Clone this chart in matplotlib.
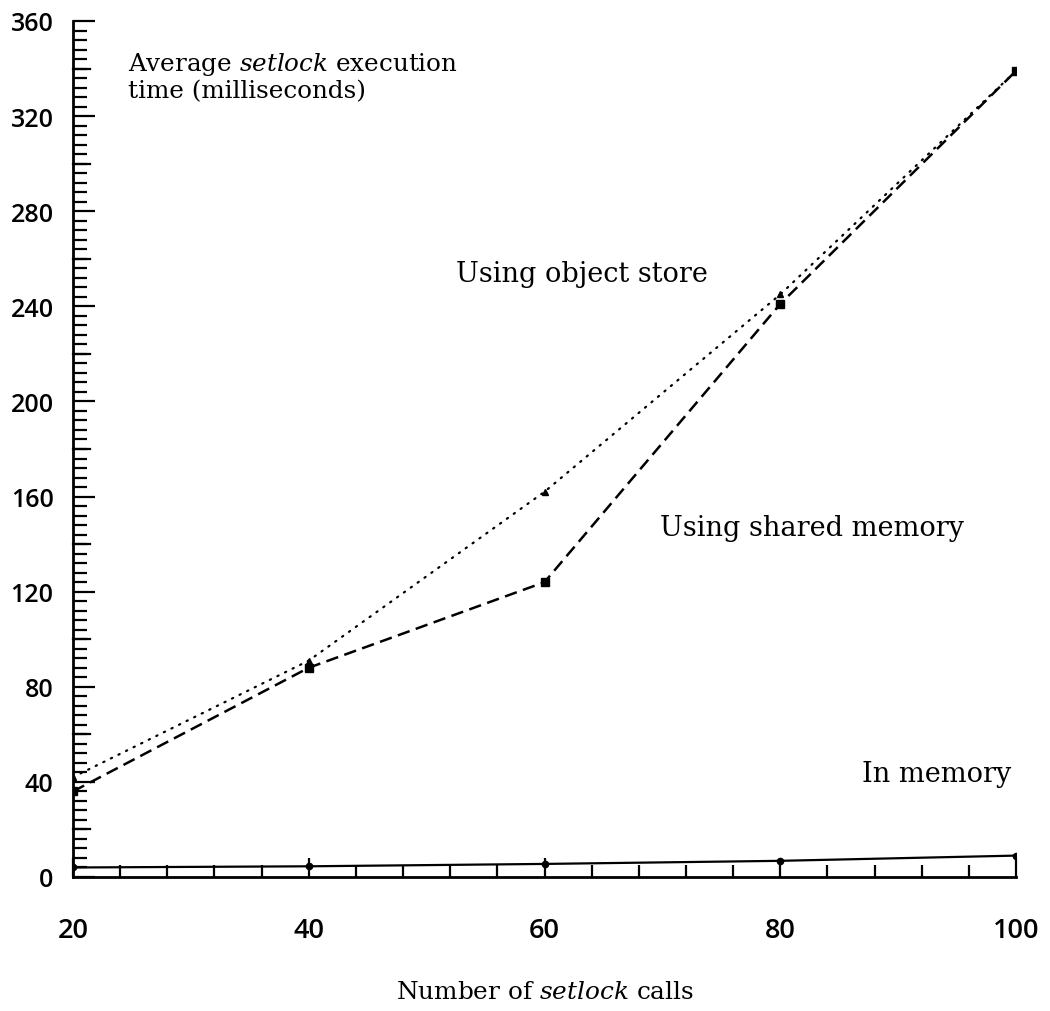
import numpy as np
import matplotlib
matplotlib.use("Agg")
import matplotlib.pyplot as plt
from matplotlib.ticker import MultipleLocator

# setlock calls vs. average execution time (ms)
calls = [20, 40, 60, 80, 100]
object_store = [42, 91, 162, 245, 339]
shared_memory = [36, 88, 124, 241, 339]
in_memory = [4, 4.5, 5.5, 6.8, 9]

x_ticks = [20, 40, 60, 80, 100]
y_ticks = [0, 40, 80, 120, 160, 200, 240, 280, 320, 360]

plt.rcParams['mathtext.fontset'] = 'dejavuserif'
serif = 'DejaVu Serif'
sans = 'Open Sans'

fig = plt.figure(figsize=(10.5, 10.12), dpi=100)
ax = fig.add_axes([73 / 1050, 1 - 878 / 1012, 943 / 1050, 856 / 1012])

ax.plot(calls, object_store, color='black', linestyle=(0, (0.6, 3.2)), linewidth=1.6,
        marker='^', markersize=5, dash_capstyle='round')
ax.plot(calls, shared_memory, color='black', linestyle=(0, (5, 2.6)), linewidth=1.8,
        marker='s', markersize=5.5)
ax.plot(calls, in_memory, color='black', linestyle='-', linewidth=1.6,
        marker='o', markersize=4.5)

ax.set_xlim(20, 100)
ax.set_ylim(0, 360)
ax.set_xticks(x_ticks)
ax.set_yticks(y_ticks)
ax.xaxis.set_minor_locator(MultipleLocator(4))
ax.yaxis.set_minor_locator(MultipleLocator(4))

for s in ['top', 'right']:
    ax.spines[s].set_visible(False)
for s in ['left', 'bottom']:
    ax.spines[s].set_linewidth(2)

ax.tick_params(axis='x', which='major', direction='in', length=14, width=1.6, pad=28)
ax.tick_params(axis='x', which='minor', direction='in', length=9, width=1.6)
ax.tick_params(axis='y', which='major', direction='in', length=16, width=1.6, pad=14)
ax.tick_params(axis='y', which='minor', direction='in', length=10, width=1.6)
# long ticks every 20 on the y axis
for v in range(20, 360, 40):
    ax.plot([20, 21.4], [v, v], color='black', linewidth=1.6, clip_on=False)

for lab in ax.get_xticklabels():
    lab.set_fontfamily(sans)
    lab.set_fontsize(19.5)
    lab.set_fontweight('semibold')
for lab in ax.get_yticklabels():
    lab.set_fontfamily(sans)
    lab.set_fontsize(18)
    lab.set_fontweight('semibold')

ax.text(24.7, 348, 'Average $\\mathit{setlock}$ execution\ntime (milliseconds)',
        fontfamily=serif, fontsize=17.7, va='top', ha='left', linespacing=1.15)
ax.text(52.5, 254, 'Using object store', fontfamily=serif, fontsize=19.5, va='center')
ax.text(69.8, 147, 'Using shared memory', fontfamily=serif, fontsize=19.5, va='center')
ax.text(86.9, 43.4, 'In memory', fontfamily=serif, fontsize=19.5, va='center')

ax.set_xlabel('Number of $\\mathit{setlock}$ calls', fontfamily=serif, fontsize=17.8, labelpad=26)

fig.savefig('out.png', dpi=100)
